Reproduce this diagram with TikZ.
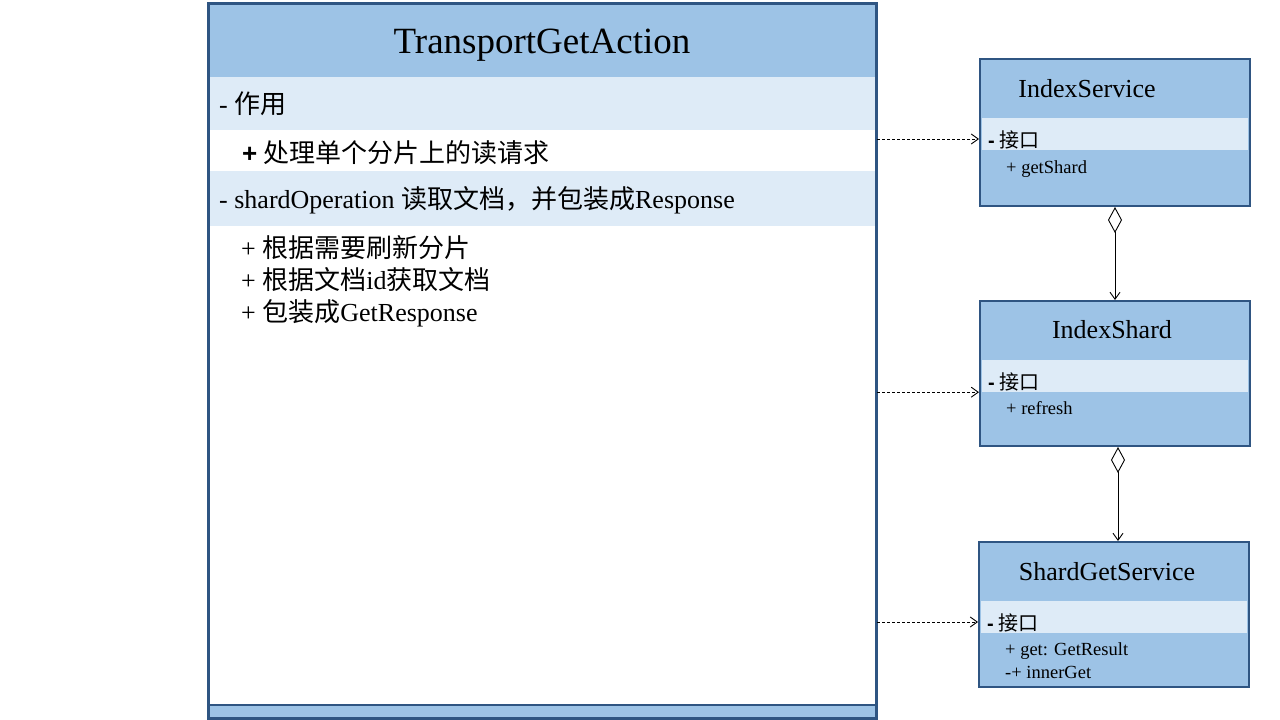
\documentclass[tikz,border=0pt]{standalone}
\usepackage{fontspec}
\setmainfont{Liberation Serif}
\setsansfont{Liberation Sans}
\newfontfamily\cjk{Noto Sans CJK SC}
\usetikzlibrary{
  arrows.meta,
  positioning,
}
\definecolor{umlblue}{RGB}{157, 195, 230}
\definecolor{umllight}{RGB}{222, 235, 247}
\definecolor{umlborder}{RGB}{47, 85, 130}
\tikzstyle{classbox} = [
  rectangle,
  draw=umlborder,
  line width=2pt,
  fill=umlblue,
  inner sep=0pt,
]
\tikzstyle{band} = [rectangle, fill=umllight, inner sep=0pt]
\tikzstyle{title} = [anchor=base, inner sep=0pt]
\tikzstyle{row} = [anchor=base west, inner sep=0pt, font=\fontsize{26}{30}\selectfont]
\tikzstyle{iface} = [anchor=base west, inner sep=0pt, font=\fontsize{20}{23}\selectfont]
\tikzstyle{member} = [anchor=base west, inner sep=0pt, font=\fontsize{18.5}{22}\selectfont]
\tikzstyle{dep} = [
  -{Straight Barb[length=7pt,width=10pt]},
  dash pattern=on 3pt off 2pt,
  line width=0.9pt,
]
\tikzstyle{agg} = [
  {Diamond[open,length=26pt,width=14pt]}-{Straight Barb[length=7pt,width=10pt]},
  line width=0.9pt,
]
\newcommand{\bplus}{{\sffamily\bfseries +}}
\newcommand{\bminus}{{\sffamily\bfseries -}}

\begin{document}
\begin{tikzpicture}[x=1pt,y=-1pt]
  \useasboundingbox (0,0) rectangle (1280,720);

  % TransportGetAction
  \node[classbox,fill=white,minimum width=667,minimum height=714] (tga) at (542.5,361) {};
  \node[band,fill=umlblue,minimum width=665,minimum height=72,anchor=north west] (tgahead) at (210,5) {};
  \node[band,minimum width=665,minimum height=53,anchor=north west] (tgause) at (210,77) {};
  \node[band,minimum width=665,minimum height=55,anchor=north west] (tgaop) at (210,171) {};
  \node[band,fill=umlblue,minimum width=665,minimum height=12,anchor=north west] (tgafoot) at (210,705) {};
  \draw[umlborder,line width=2pt] (tga.north west) rectangle (tga.south east);
  \draw[umlborder,line width=1.5pt] (tgafoot.north west) -- (tgafoot.north east);

  \node[title,font=\fontsize{37}{44}\selectfont] (tganame) at (542,53) {TransportGetAction};
  \node[row] (r1) at (219,113) {- {\cjk 作用}};
  \node[row] (r2) at (242,162) {\bplus\ {\cjk 处理单个分片上的读请求}};
  \node[row] (r3) at (219,208) {- shardOperation {\cjk 读取文档，并包装成}Response};
  \node[row] (r4) at (241,257) {+ {\cjk 根据需要刷新分片}};
  \node[row] (r5) at (241,289) {+ {\cjk 根据文档}id{\cjk 获取文档}};
  \node[row] (r6) at (241,321) {+ {\cjk 包装成}GetResponse};

  % IndexService
  \node[classbox,minimum width=270,minimum height=147] (svc) at (1115,132.5) {};
  \node[band,minimum width=266,minimum height=32] (svcif) at (1115,134) {};
  \node[title,font=\fontsize{26}{30}\selectfont] (svcname) at (1087,97) {IndexService};
  \node[iface] (svc1) at (988,147) {\bminus\ {\cjk 接口}};
  \node[member] (svc2) at (1006,173) {+ getShard};

  % IndexShard
  \node[classbox,minimum width=270,minimum height=145] (shd) at (1115,373.5) {};
  \node[band,minimum width=266,minimum height=32] (shdif) at (1115,376) {};
  \node[title,font=\fontsize{26}{30}\selectfont] (shdname) at (1112,338) {IndexShard};
  \node[iface] (shd1) at (988,389) {\bminus\ {\cjk 接口}};
  \node[member] (shd2) at (1006,414) {+ refresh};

  % ShardGetService
  \node[classbox,minimum width=270,minimum height=145] (sgs) at (1114,614.5) {};
  \node[band,minimum width=266,minimum height=32] (sgsif) at (1114,617) {};
  \node[title,font=\fontsize{26}{30}\selectfont] (sgsname) at (1107,580) {ShardGetService};
  \node[iface] (sgs1) at (987,630) {\bminus\ {\cjk 接口}};
  \node[member] (sgs2) at (1005,655) {+ get: GetResult};
  \node[member] (sgs3) at (1005,678) {-+ innerGet};

  % connectors
  \draw[dep] ([yshift=-5pt]tga.east |- svcif) -- ([yshift=-5pt]svc.west |- svcif);
  \draw[dep] (tga.east |- shdif.south) -- (shd.west |- shdif.south);
  \draw[dep] ([yshift=-5pt]tga.east |- sgsif) -- ([yshift=-5pt]sgs.west |- sgsif);
  \draw[agg] (svc.south) -- (shd.north);
  \draw[agg] ([xshift=3pt]shd.south) -- ([xshift=4pt]sgs.north);
\end{tikzpicture}
\end{document}
